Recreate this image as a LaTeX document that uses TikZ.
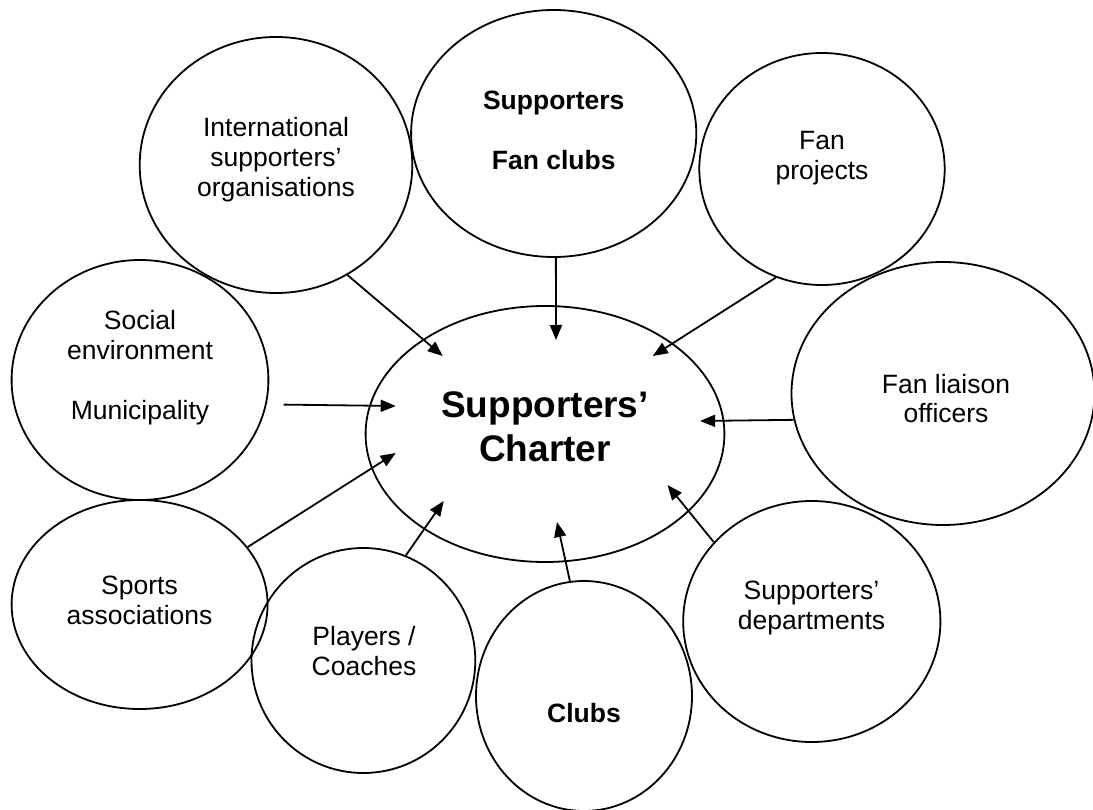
\documentclass[tikz,border=0pt]{standalone}
\usepackage{fontspec}
\setmainfont{Liberation Sans}
\usetikzlibrary{shapes.geometric,arrows.meta}
\begin{document}
\begin{tikzpicture}[x=1pt,y=-1pt,
  ell/.style={draw, ellipse, line width=1.8pt, inner sep=0pt},
  txt/.style={anchor=base, align=center, inner sep=0pt, font=\fontsize{26.5}{30}\selectfont},
  btxt/.style={anchor=base, align=center, inner sep=0pt, font=\fontsize{26.5}{30}\selectfont\bfseries},
  ctxt/.style={anchor=base, align=center, inner sep=0pt, font=\fontsize{37}{44}\selectfont\bfseries},
  arr/.style={line width=1.8pt, -{Triangle[length=15pt,width=12pt]}}]
\useasboundingbox (0,0) rectangle (1093,810);
% ellipses
\node[ell, minimum width=358.8pt, minimum height=256pt] (ch) at (545,434) {};
\node[ell, minimum width=272.6pt, minimum height=256pt] (int) at (276,165) {};
\node[ell, minimum width=285.2pt, minimum height=247pt] (fc) at (553.7,133.5) {};
\node[ell, minimum width=245.4pt, minimum height=232pt] (fp) at (822,169) {};
\node[ell, minimum width=303pt, minimum height=263pt] (fl) at (943,393.5) {};
\node[ell, minimum width=256.8pt, minimum height=240pt] (soc) at (140,380) {};
\node[ell, minimum width=256pt, minimum height=209pt] (sp) at (139.6,604.5) {};
\node[ell, minimum width=223.8pt, minimum height=225pt] (pl) at (363.4,660.5) {};
\node[ell, minimum width=216pt, minimum height=230pt] (cl) at (584,696) {};
\node[ell, minimum width=257.2pt, minimum height=241pt] (sd) at (811.8,621.5) {};
% texts (anchored at the baseline of the last line)
\node[ctxt] (tch) at (545,461) {Supporters’\\Charter};
\node[txt] (tint) at (276,197) {International\\supporters’\\organisations};
\node[btxt] (tfc) at (553.7,170) {Supporters\\[30pt]Fan clubs};
\node[txt] (tfp) at (822,180) {Fan\\projects};
\node[txt] (tfl) at (946,423) {Fan liaison\\officers};
\node[txt] (tsoc) at (140,419) {Social\\environment\\[30pt]Municipality};
\node[txt] (tsp) at (139.5,624) {Sports\\associations};
\node[txt] (tpl) at (364,675) {Players /\\Coaches};
\node[btxt] (tcl) at (584,722) {Clubs};
\node[txt] (tsd) at (811.5,629) {Supporters’\\departments};
% arrow tips
\coordinate (kint) at (442.7,356);
\coordinate (kfc) at (556,340);
\coordinate (kfp) at (652.8,356);
\coordinate (kfl) at (700.1,421);
\coordinate (ksoc) at (395.7,406);
\coordinate (ksp) at (395.7,453);
\coordinate (kpl) at (443.7,501);
\coordinate (kcl) at (557,522);
\coordinate (ksd) at (667.5,485);
% arrows
\draw[arr] (int.-57.3) -- (kint);
\draw[arr] (fc.-89) -- (kfc);
\draw[arr] (fp.-113.4) -- (kfp);
\draw[arr] (fl.190.5) -- (kfl);
\draw[arr] ([xshift=17pt]soc.-11.7) -- (ksoc);
\draw[arr] (sp.28.1) -- (ksp);
\draw[arr] (pl.68.1) -- (kpl);
\draw[arr] (cl.97.3) -- (kcl);
\draw[arr] (sd.141) -- (ksd);
\end{tikzpicture}
\end{document}
